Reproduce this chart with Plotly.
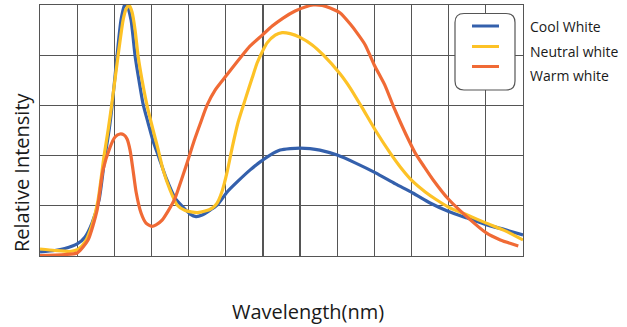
import plotly.graph_objects as go

# ---------------- data ----------------
series_names = ["Cool White", "Neutral white", "Warm white"]
series_colors = ["#3460AC", "#FDC226", "#F06A35"]

cool_x = [380, 392, 400, 410, 416.4, 422, 427.7, 432.5, 435.8, 438.2, 442.2, 445.4, 448.3, 450.3, 453.5,
          456.8, 460, 463.2, 467.3, 471.3, 476.2, 481.8, 489.1, 494.7, 501.2, 506, 510.9, 517.4, 523, 531.1,
          539.2, 549.7, 557.8, 565.8, 573.9, 582, 590, 598, 606, 620, 634.5, 651, 667, 681, 695,
          710, 725, 741, 756, 770]
cool_y = [1.6, 2.2, 3.0, 4.8, 7.6, 13.1, 22.3, 39.8, 50.2, 59.8, 79.7, 94.0, 100, 99.6, 94.0,
          79.7, 69.7, 60.6, 53.0, 45.8, 39.0, 31.1, 23.1, 19.9, 16.7, 15.7, 16.3, 18.3, 20.3, 25.5,
          29.5, 34.3, 37.5, 40.2, 42.2, 42.8, 43.0, 42.8, 42.2, 40.2, 37.1, 33.1, 28.7, 25.1, 21.1,
          17.7, 15.1, 12.4, 10.4, 8.4]

neutral_x = [380, 392, 404.2, 410.7, 416.4, 422, 426.9, 431.7, 435.0, 437.8, 443, 447.1, 449.5, 451.9, 454.3,
             456.8, 459.2, 462.4, 466.5, 471.3, 475.3, 479.4, 485, 490.7, 497.2, 506.9, 513.3, 519.0, 523.0, 527.1,
             531.1, 535.1, 540, 545.6, 551.3, 555.3, 559.4, 563.4, 569.9, 575.5, 582, 590, 599.8, 608.7, 622.4,
             630.5, 640.2, 650.7, 662.8, 670.9, 680.6, 691.1, 699.2, 709.7, 725, 740.4, 755.7, 770]
neutral_y = [2.8, 2.2, 1.8, 2.6, 5.6, 12.4, 22.3, 39.8, 50.2, 59.8, 79.7, 94.0, 98.4, 100, 97.2,
             90.0, 79.7, 70.1, 59.8, 50.2, 42.6, 34.3, 26.3, 20.3, 18.1, 17.3, 17.9, 19.1, 21.1, 25.9,
             33.5, 43.0, 53.4, 62.2, 70.9, 76.9, 81.3, 84.9, 88.0, 89.0, 88.6, 87.1, 84.1, 80.1, 72.5,
             66.9, 59.0, 50.2, 41.0, 35.5, 29.9, 25.5, 22.7, 19.5, 16.3, 13.1, 10.0, 6.4]

warm_x = [380, 392, 400, 410, 418.8, 426.1, 430.9, 436.6, 440.6, 444.6, 447.9, 450.3, 452.7, 455.1, 457.6,
          461.6, 465.6, 470.3, 473.7, 478.6, 483.4, 489.1, 493.9, 498.8, 504.4, 509.3, 515.0, 521.4, 529.5, 541.6,
          549.7, 559.4, 567.5, 576.3, 586, 594.1, 600.6, 607.9, 614.3, 622.4, 630.5, 636.1, 642.6, 649.9, 658.8,
          665.2, 670.9, 676.5, 683, 690.3, 697.5, 709.7, 725, 740.4, 751.7, 766.2]
warm_y = [0.2, 0.4, 0.6, 1.2, 6.4, 18.3, 34.3, 43.4, 47.4, 48.6, 48.2, 46.6, 42.2, 34.3, 25.5,
          17.1, 13.1, 11.8, 12.4, 14.3, 17.9, 23.1, 29.9, 37.1, 45.8, 52.6, 60.2, 66.1, 71.3, 78.9,
          83.7, 88.0, 91.6, 94.8, 97.6, 99.2, 100, 99.8, 98.8, 96.8, 92.4, 88.8, 84.1, 76.1, 67.7,
          59.8, 53.4, 47.4, 41.0, 35.5, 30.3, 22.7, 15.5, 9.2, 6.4, 4.0]

x_range = [380, 770]
x_step = 30
y_range = [0, 100]
y_step = 20
x_title = "Wavelength(nm)"
y_title = "Relative Intensity"

# ---------------- layout geometry ----------------
W, H = 627, 327
ML, MR, MT, MB = 40, 104, 5, 71
PW, PH = W - ML - MR, H - MT - MB

def px2paper(px, py):
    return (px - ML) / PW, (H - MB - py) / PH

fig = go.Figure()
for xs, ys, name, col in zip([cool_x, neutral_x, warm_x], [cool_y, neutral_y, warm_y],
                             series_names, series_colors):
    fig.add_trace(go.Scatter(x=xs, y=ys, name=name, mode="lines",
                             line=dict(color=col, width=3.2, shape="spline", smoothing=0.6),
                             showlegend=False, hoverinfo="skip"))

grid_col = "#555555"
fig.update_xaxes(range=x_range, dtick=x_step, tick0=x_range[0], showgrid=True, gridcolor=grid_col,
                 gridwidth=1.2, showticklabels=False, ticks="", zeroline=False,
                 showline=True, mirror=True, linecolor=grid_col, linewidth=1.2)
fig.update_yaxes(range=y_range, dtick=y_step, tick0=0, showgrid=True, gridcolor=grid_col,
                 gridwidth=1.2, showticklabels=False, ticks="", zeroline=False,
                 showline=True, mirror=True, linecolor=grid_col, linewidth=1.2)

shapes = []
# rounded legend box
bx0, by0, bx1, by1, r = 455, 13.5, 515, 90, 9
def P(px, py):
    a, b = px2paper(px, py)
    return f"{a:.5f},{b:.5f}"
path = (f"M {P(bx0 + r, by0)} L {P(bx1 - r, by0)} Q {P(bx1, by0)} {P(bx1, by0 + r)} "
        f"L {P(bx1, by1 - r)} Q {P(bx1, by1)} {P(bx1 - r, by1)} L {P(bx0 + r, by1)} "
        f"Q {P(bx0, by1)} {P(bx0, by1 - r)} L {P(bx0, by0 + r)} Q {P(bx0, by0)} {P(bx0 + r, by0)} Z")
shapes.append(dict(type="path", xref="paper", yref="paper", path=path,
                   fillcolor="white", line=dict(color="#555555", width=1.2), layer="above"))
annotations = []
line_ys = [26, 46.5, 66.5]
text_ys = [26.5, 51.5, 76]
for name, col, ly, ty in zip(series_names, series_colors, line_ys, text_ys):
    x0, y0 = px2paper(472, ly)
    x1, _ = px2paper(499, ly)
    shapes.append(dict(type="line", xref="paper", yref="paper", x0=x0, x1=x1, y0=y0, y1=y0,
                       line=dict(color=col, width=3), layer="above"))
    tx, tyy = px2paper(528, ty)
    annotations.append(dict(text=name, xref="paper", yref="paper", x=tx, y=tyy, xanchor="left",
                            yanchor="middle", showarrow=False,
                            font=dict(family="Open Sans", size=14, color="#1a1a1a")))

ax, ay = px2paper(307.5, 311)
annotations.append(dict(text=x_title, xref="paper", yref="paper", x=ax, y=ay, xanchor="center",
                        yanchor="middle", showarrow=False,
                        font=dict(family="Open Sans", size=20, color="#1a1a1a")))
yx, yy = px2paper(21, 172)
annotations.append(dict(text=y_title, xref="paper", yref="paper", x=yx, y=yy, xanchor="center",
                        yanchor="middle", textangle=-90, showarrow=False,
                        font=dict(family="Open Sans", size=20, color="#1a1a1a")))

fig.update_layout(width=W, height=H, margin=dict(l=ML, r=MR, t=MT, b=MB),
                  paper_bgcolor="white", plot_bgcolor="white", hovermode=False,
                  shapes=shapes, annotations=annotations)

fig.write_html("out.html", config={"displayModeBar": False, "staticPlot": True},
               post_script="document.body.style.margin='0px';document.body.style.padding='0px';")
